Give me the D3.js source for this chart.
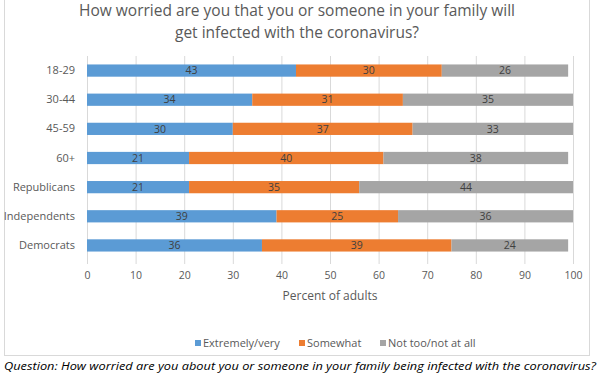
<!DOCTYPE html>
<html>
<head>
<meta charset="utf-8">
<script src="https://cdn.jsdelivr.net/npm/d3@7"></script>
<style>
  body { margin: 0; background: #fff; }
  text { font-family: "Open Sans", "Liberation Sans", sans-serif; }
</style>
</head>
<body>
<div id="chart"></div>
<script>
// chart data
var groups = ["18-29", "30-44", "45-59", "60+", "Republicans", "Independents", "Democrats"];
var seriesNames = ["Extremely/very", "Somewhat", "Not too/not at all"];
var extremely = [43, 34, 30, 21, 21, 39, 36];
var somewhat = [30, 31, 37, 40, 35, 25, 39];
var notAtAll = [26, 35, 33, 38, 44, 36, 24];
var xTicks = [0, 10, 20, 30, 40, 50, 60, 70, 80, 90, 100];
var colors = ["#5B9BD5", "#ED7D31", "#A5A5A5"];

var svgWidth = 612;
var svgHeight = 374;

var chartMargin = { top: 56, right: 39, bottom: 114, left: 87 };
var chartWidth = svgWidth - chartMargin.left - chartMargin.right;
var chartHeight = svgHeight - chartMargin.top - chartMargin.bottom;

var svg = d3.select("#chart")
    .append("svg")
    .attr("width", svgWidth)
    .attr("height", svgHeight);

// outer frame
svg.append("rect")
    .attr("x", 4.5)
    .attr("y", -2)
    .attr("width", 585)
    .attr("height", 357.5)
    .attr("fill", "none")
    .attr("stroke", "#D9D9D9");

// title
var title = svg.append("text")
    .attr("text-anchor", "middle")
    .attr("fill", "#595959")
    .style("font-size", "15.5px");
title.append("tspan").attr("x", 297).attr("y", 16).text("How worried are you that you or someone in your family will");
title.append("tspan").attr("x", 297).attr("y", 38).text("get infected with the coronavirus?");

var chartGroup = svg.append("g")
    .attr("transform", `translate(${chartMargin.left}, ${chartMargin.top})`);

var xScale = d3.scaleLinear().domain([0, 100]).range([0, chartWidth]);
var yScale = d3.scaleBand().domain(groups).range([0, chartHeight]).paddingInner(0.58).paddingOuter(0.29);

// gridlines
chartGroup.append("g")
    .selectAll("line")
    .data(xTicks)
    .enter()
    .append("line")
    .attr("x1", d => xScale(d) + 0.5)
    .attr("x2", d => xScale(d) + 0.5)
    .attr("y1", 0)
    .attr("y2", chartHeight + 4)
    .attr("stroke", "#D9D9D9");

// x axis labels
var bottomAxis = d3.axisBottom(xScale).tickValues(xTicks).tickSize(0).tickPadding(12);
var xAxis = chartGroup.append("g")
    .attr("transform", `translate(0, ${chartHeight})`)
    .call(bottomAxis);
xAxis.select(".domain").remove();
xAxis.selectAll("text")
    .attr("fill", "#595959")
    .style("font-size", "10.5px");

// y axis labels
var leftAxis = d3.axisLeft(yScale).tickSize(0).tickPadding(12);
var yAxis = chartGroup.append("g").call(leftAxis);
yAxis.select(".domain").remove();
yAxis.selectAll("text")
    .attr("fill", "#595959")
    .style("font-size", "11px");

// stacked bars
var rows = groups.map(function(g, i) {
    return { group: g, values: [extremely[i], somewhat[i], notAtAll[i]] };
});

rows.forEach(function(row) {
    var start = 0;
    row.values.forEach(function(v, j) {
        chartGroup.append("rect")
            .attr("x", xScale(start))
            .attr("y", yScale(row.group))
            .attr("width", xScale(v) - xScale(0))
            .attr("height", yScale.bandwidth())
            .attr("fill", colors[j]);
        chartGroup.append("text")
            .attr("x", xScale(start + v / 2))
            .attr("y", yScale(row.group) + yScale.bandwidth() / 2)
            .attr("dy", "0.36em")
            .attr("text-anchor", "middle")
            .attr("fill", "#404040")
            .style("font-size", "10.5px")
            .text(v);
        start += v;
    });
});

// x axis title
svg.append("text")
    .attr("x", xScale(50) + chartMargin.left)
    .attr("y", 300)
    .attr("text-anchor", "middle")
    .attr("fill", "#595959")
    .style("font-size", "12px")
    .text("Percent of adults");

// legend
var legendX = [195, 299, 380];
var legend = svg.append("g");
seriesNames.forEach(function(name, i) {
    legend.append("rect")
        .attr("x", legendX[i])
        .attr("y", 340)
        .attr("width", 6)
        .attr("height", 6)
        .attr("fill", colors[i]);
    legend.append("text")
        .attr("x", legendX[i] + 8)
        .attr("y", 343)
        .attr("dy", "0.35em")
        .attr("fill", "#595959")
        .style("font-size", "11px")
        .text(name);
});

// caption below
svg.append("text")
    .attr("x", 4)
    .attr("y", 370)
    .attr("fill", "#000")
    .style("font-size", "11.5px")
    .style("font-style", "italic")
    .attr("textLength", 592)
    .attr("lengthAdjust", "spacingAndGlyphs")
    .text("Question: How worried are you about you or someone in your family being infected with the coronavirus?");
</script>
</body>
</html>
